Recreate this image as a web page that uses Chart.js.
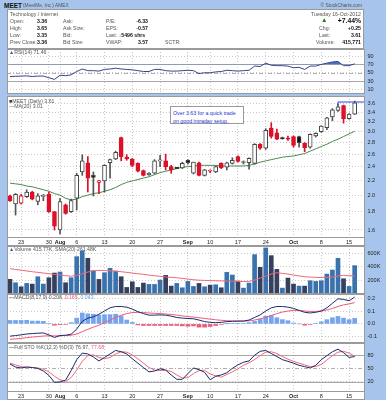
<!DOCTYPE html>
<html><head><meta charset="utf-8">
<script src="https://cdn.jsdelivr.net/npm/chart.js@4/dist/chart.umd.min.js"></script>
<style>
html,body{margin:0;padding:0}
body{width:386px;height:400px;background:#a6c4ec;position:relative;overflow:hidden;font-family:"Liberation Sans",Arial,sans-serif}
canvas{position:absolute;left:0}
.t{position:absolute;font-size:5.2px;line-height:6px;color:#555;white-space:nowrap;z-index:5}
.v{font-weight:bold;color:#111}
#hdr{position:absolute;left:7px;top:9px;width:357px;height:40px;background:#fff;border:1px solid #9a9a9a;box-sizing:border-box}
#note{position:absolute;left:170px;top:106px;width:74px;height:18px;border:1px solid #9a9a9a;background:#fff;box-sizing:border-box;z-index:6;font-size:5.3px;color:#1f33d8;padding:2px 0 0 2px;line-height:8px;white-space:nowrap}
</style></head><body>
<div id="hdr"></div>
<div class="t v" style="left:4px;top:2px;font-size:6.5px;line-height:7px">MEET</div>
<div class="t" style="left:23px;top:2.5px;font-size:4.8px">(MeetMe, Inc.) AMEX</div>
<div class="t" style="right:24px;top:2.5px;font-size:4.8px">© StockCharts.com</div>

<div class="t" style="left:10px;top:11px">Technology / Internet</div>
<div class="t" style="right:25px;top:11px">Tuesday 16-Oct-2012</div>

<div class="t" style="left:10px;top:17.5px">Open:</div><div class="t v" style="left:37px;top:17.5px">3.36</div>
<div class="t" style="left:63px;top:17.5px">Ask:</div>
<div class="t" style="left:106px;top:17.5px">P/E:</div><div class="t v" style="right:238px;top:17.5px">-6.33</div>
<div class="t" style="left:321px;top:16.5px;font-size:6.5px;color:#1f7a1f">▲</div>
<div class="t v" style="right:25px;top:16.5px;font-size:6.8px;line-height:7px">+7.44%</div>

<div class="t" style="left:10px;top:24.5px">High:</div><div class="t v" style="left:37px;top:24.5px">3.65</div>
<div class="t" style="left:63px;top:24.5px">Ask Size:</div>
<div class="t" style="left:106px;top:24.5px">EPS:</div><div class="t v" style="right:238px;top:24.5px">-0.57</div>
<div class="t" style="left:319px;top:24.5px">Chg:</div><div class="t v" style="right:25px;top:24.5px">+0.25</div>

<div class="t" style="left:10px;top:31.5px">Low:</div><div class="t v" style="left:37px;top:31.5px">3.35</div>
<div class="t" style="left:63px;top:31.5px">Bid:</div>
<div class="t" style="left:106px;top:31.5px">Last: <span style="color:#d01020;font-weight:bold">↓</span><span class="v">5496 shrs</span></div>
<div class="t" style="left:319px;top:31.5px">Last:</div><div class="t v" style="right:25px;top:31.5px">3.61</div>

<div class="t" style="left:10px;top:39px">Prev Close:</div><div class="t v" style="left:37px;top:39px">3.36</div>
<div class="t" style="left:63px;top:39px">Bid Size:</div>
<div class="t" style="left:106px;top:39px">VWAP:</div><div class="t v" style="right:238px;top:39px">3.57</div>
<div class="t" style="left:165px;top:39px">SCTR:</div>
<div class="t" style="left:316px;top:39px">Volume:</div><div class="t v" style="right:25px;top:39px">415,771</div>

<canvas id="cRsi" width="386" height="45" style="top:49px;width:386px;height:45px"></canvas>
<canvas id="cPx" width="386" height="150" style="top:96px;width:386px;height:150px"></canvas>
<canvas id="cVol" width="386" height="48" style="top:246px;width:386px;height:48px"></canvas>
<canvas id="cMacd" width="386" height="49" style="top:294px;width:386px;height:49px"></canvas>
<canvas id="cSto" width="386" height="57" style="top:343px;width:386px;height:57px"></canvas>

<div class="t" style="left:9px;top:49px"><span style="color:#3b5fb5">▲</span>RSI(14) 71.46</div>
<div class="t" style="left:9px;top:98px"><span style="color:#333">■</span>MEET (Daily) 3.61</div>
<div class="t" style="left:9px;top:103px"><span style="color:#4d8a4d">—</span>MA(20) 3.01</div>
<div class="t" style="left:9px;top:245.5px"><span style="color:#3b5fb5">▲</span>Volume 415.77K, SMA(20) 261.48K</div>
<div class="t" style="left:9px;top:294px"><span style="color:#1c2c6c">—</span>MACD(8,17,9) 0.208, <span style="color:#f05a78">0.165</span>, <span style="color:#6f9fe8">0.043</span></div>
<div class="t" style="left:9px;top:343.5px"><span style="color:#1c2c6c">—</span>Full STO %K(12,3) %D(3) 76.97, <span style="color:#f05a78">77.68</span></div>
<div id="note">Over 3.63 for a quick trade<br>on good intraday setup.</div>

<script>
// ---------- data ----------
const tickIdx = [2, 7, 9, 12, 17, 22, 27, 32, 36, 41, 46, 51, 56, 61];
const tickLabels = ['23', '30', 'Aug', '6', '13', '20', '27', 'Sep', '10', '17', '24', 'Oct', '8', '15'];
const monthLabels = ['Aug', 'Sep', 'Oct'];
const priceTicks = [1.6, 1.8, 2.0, 2.2, 2.4, 2.6, 2.8, 3.0, 3.2, 3.4, 3.6];
const rsiTicks = [10, 30, 50, 70, 90];
const volTicks = [200000, 400000, 600000];
const macdTicks = [-0.1, 0.0, 0.1, 0.2];
const stoTicks = [20, 50, 80];

const open = [1.99,1.89,1.90,1.98,2.04,1.92,1.985,2.01,1.80,1.60,1.88,1.80,1.96,2.32,2.46,2.27,2.17,2.19,2.46,2.52,2.89,2.55,2.52,2.45,2.34,2.28,2.30,2.49,2.49,2.40,2.39,2.38,2.50,2.30,2.46,2.27,2.33,2.32,2.45,2.39,2.45,2.56,2.465,2.46,2.45,2.77,2.70,3.07,2.98,2.89,2.88,2.91,2.91,2.79,2.72,2.92,3.00,3.08,3.30,3.44,3.55,3.26,3.36];
const high = [2.00,2.02,2.01,2.07,2.05,2.02,2.01,2.04,1.80,1.96,1.89,1.95,2.30,2.59,2.56,2.32,2.20,2.43,2.52,2.65,2.90,2.59,2.53,2.46,2.35,2.31,2.51,2.58,2.60,2.42,2.39,2.47,2.51,2.47,2.47,2.36,2.35,2.41,2.46,2.47,2.54,2.57,2.49,2.54,2.78,2.78,3.06,3.18,3.05,2.90,2.92,2.92,2.92,2.80,2.96,2.98,3.12,3.29,3.48,3.58,3.56,3.37,3.65];
const low = [1.92,1.76,1.89,1.97,1.94,1.88,1.93,1.79,1.60,1.56,1.77,1.79,1.82,2.27,2.04,1.99,2.02,2.04,2.23,2.51,2.49,2.50,2.40,2.32,2.26,2.27,2.29,2.40,2.35,2.30,2.37,2.37,2.44,2.29,2.26,2.26,2.31,2.31,2.37,2.35,2.44,2.47,2.44,2.36,2.44,2.68,2.68,2.88,2.85,2.86,2.84,2.72,2.72,2.64,2.70,2.90,2.99,3.04,3.22,3.42,3.17,3.25,3.35];
const close = [1.93,2.01,1.99,2.04,1.95,1.99,1.99,1.80,1.64,1.92,1.78,1.93,2.27,2.49,2.23,2.24,2.19,2.42,2.51,2.63,2.56,2.52,2.42,2.33,2.27,2.30,2.49,2.50,2.40,2.35,2.37,2.45,2.46,2.47,2.27,2.35,2.34,2.40,2.38,2.46,2.50,2.48,2.48,2.53,2.77,2.70,3.03,2.91,2.86,2.87,2.86,2.75,2.80,2.71,2.95,2.97,3.11,3.28,3.45,3.52,3.26,3.36,3.61];
const ma20 = [2.16,2.15,2.14,2.12,2.11,2.09,2.07,2.05,2.02,2.00,1.96,1.94,1.95,1.98,2.00,2.02,2.03,2.05,2.07,2.10,2.14,2.17,2.19,2.21,2.23,2.25,2.28,2.31,2.33,2.35,2.37,2.39,2.40,2.41,2.42,2.42,2.42,2.42,2.41,2.41,2.41,2.41,2.41,2.42,2.44,2.47,2.49,2.51,2.53,2.55,2.56,2.57,2.59,2.61,2.65,2.69,2.73,2.77,2.82,2.86,2.91,2.96,3.01];
const alertLevel = 3.63;
const alertStart = [59, 3.55];

const volumeK = [211,160,100,150,140,250,140,235,305,320,160,235,550,636,526,340,210,310,376,335,250,90,175,90,155,135,135,200,270,110,150,85,180,105,150,100,125,130,85,315,275,185,80,155,580,390,680,565,360,80,230,140,110,110,190,180,190,290,350,525,220,105,415.771];
const volSmaK = [370,358,348,336,325,315,305,295,285,275,265,258,270,295,320,340,345,342,338,332,325,315,305,295,285,275,265,255,245,240,235,225,215,205,198,195,192,190,188,185,183,180,178,180,200,230,260,290,310,300,290,275,262,250,245,240,238,238,245,262,270,265,261.48];

const rsi = [41,41.5,42,42.5,41,42,42,38,34,44,43,45,53,59,55,55,54,58,59,61,59,58,57,55,53,53,58,58,55,54,54,55,56,55,48,50,50,52,53,56,55,54,55,56,66,65,73,68,67,67,66,62,63,58,66,66,70,73,76,77,67,67,71.46];

const macd = [-0.095,-0.09,-0.085,-0.078,-0.075,-0.072,-0.07,-0.085,-0.105,-0.09,-0.088,-0.08,-0.04,0.02,0.045,0.055,0.075,0.1,0.125,0.135,0.135,0.13,0.115,0.095,0.08,0.068,0.068,0.07,0.068,0.06,0.05,0.045,0.042,0.04,0.03,0.018,0.012,0.01,0.012,0.018,0.02,0.022,0.022,0.03,0.05,0.07,0.1,0.125,0.135,0.135,0.13,0.12,0.105,0.09,0.085,0.09,0.1,0.125,0.16,0.195,0.19,0.18,0.208];
const signal = [-0.12,-0.116,-0.112,-0.107,-0.102,-0.098,-0.094,-0.092,-0.093,-0.092,-0.09,-0.088,-0.078,-0.06,-0.042,-0.025,-0.01,0.01,0.03,0.05,0.068,0.08,0.088,0.09,0.088,0.085,0.082,0.08,0.077,0.073,0.068,0.062,0.057,0.053,0.048,0.043,0.037,0.032,0.028,0.025,0.023,0.022,0.022,0.024,0.03,0.04,0.05,0.065,0.08,0.092,0.1,0.105,0.105,0.1,0.097,0.097,0.1,0.108,0.12,0.135,0.148,0.155,0.165];
const hist = [0.027,0.027,0.027,0.028,0.022,0.022,0.02,0.004,-0.01,-0.006,-0.004,0.01,0.045,0.085,0.078,0.075,0.068,0.072,0.072,0.075,0.062,0.03,0.012,-0.008,-0.012,-0.012,-0.012,-0.012,-0.012,-0.012,-0.012,-0.015,-0.018,-0.015,-0.025,-0.025,-0.02,-0.012,-0.003,0.001,0.003,0.003,0.004,0.01,0.02,0.035,0.06,0.065,0.048,0.033,0.025,0.007,0,-0.01,-0.003,0.005,0.016,0.033,0.048,0.058,0.045,0.033,0.043];

const stoK = [60,53,51,53,52,50,44,34,18,19,23,45,70,85,83,76,67,75,83,91,88,83,72,62,52,42,44,49,46,35,25,25,38,51,47,41,24,32,35,40,50,58,64,67,80,89,91,84,77,70,66,62,57,54,51,57,70,79,88,94,86,75,76.97];
const stoD = [62,58,54,53,52,51,48,42,32,24,20,29,46,66,79,81,75,72,75,83,88,87,81,72,62,52,46,45,46,43,35,28,29,38,45,46,37,33,30,36,42,49,57,63,70,79,87,88,84,77,71,66,62,58,54,54,59,69,79,87,89,85,77.68];

// ---------- helpers ----------
const FONT = "'Liberation Sans', Arial, sans-serif";
Chart.defaults.font.family = FONT;
Chart.defaults.font.size = 5.5;
Chart.defaults.color = '#222';
Chart.defaults.animation = false;
Chart.defaults.events = [];
Chart.defaults.plugins.legend.display = false;
Chart.defaults.plugins.tooltip.enabled = false;

const pts = arr => arr.map((v, i) => ({x: i, y: v}));

const panel = {
  id: 'panel',
  beforeDraw(chart, args, opts) {
    const a = chart.chartArea, ctx = chart.ctx;
    ctx.save();
    ctx.fillStyle = '#fff';
    const bottom = opts.full ? chart.height : a.bottom;
    ctx.fillRect(a.left, a.top, a.right - a.left, bottom - a.top);
    ctx.restore();
  },
  beforeDatasetsDraw(chart, args, opts) {
    const ys = chart.scales.y, a = chart.chartArea, ctx = chart.ctx;
    (opts.lines || []).forEach(l => {
      const py = Math.round(ys.getPixelForValue(l.v)) + 0.5;
      ctx.save();
      ctx.strokeStyle = l.c; ctx.lineWidth = 1; ctx.setLineDash(l.d || []);
      ctx.beginPath(); ctx.moveTo(a.left, py); ctx.lineTo(a.right, py); ctx.stroke();
      ctx.restore();
    });
  },
  afterDraw(chart, args, opts) {
    const a = chart.chartArea, ctx = chart.ctx;
    ctx.save();
    ctx.strokeStyle = '#9a9a9a'; ctx.lineWidth = 1;
    ctx.strokeRect(a.left + 0.5, a.top + 0.5, a.right - a.left - 1, a.bottom - a.top - 1);
    if (opts.full) ctx.strokeRect(a.left + 0.5, a.top + 0.5, a.right - a.left - 1, chart.height - a.top - 1);
    ctx.restore();
  }
};

function xScale(showLabels) {
  return {
    type: 'linear', min: -0.54, max: 63.86, offset: false,
    afterBuildTicks: s => { s.ticks = tickIdx.map(v => ({value: v})); },
    ticks: {
      display: showLabels, autoSkip: false, maxRotation: 0, padding: 1.5,
      callback: (v, i) => tickLabels[i],
      color: '#222',
      font: c => ({family: FONT, size: 5.5, weight: monthLabels.includes(tickLabels[c.index]) ? 'bold' : 'normal'})
    },
    grid: {color: '#c9c9c9', drawTicks: false, offset: false, lineWidth: 1},
    border: {display: false, dash: [1, 2]},
    afterFit: s => { s.height = showLabels ? 8 : 0; s.paddingLeft = 0; s.paddingRight = 0; }
  };
}
function yScale(type, min, max, ticks, fmt) {
  return {
    type, position: 'right', min, max,
    afterBuildTicks: s => { s.ticks = ticks.map(v => ({value: v})); },
    ticks: {callback: fmt, padding: 2.5, color: '#222', font: {size: 5.5}, autoSkip: false},
    grid: {color: '#c9c9c9', drawTicks: false, lineWidth: 1},
    border: {display: false, dash: [1, 2]},
    afterFit: s => { s.width = 21; s.paddingTop = 0; s.paddingBottom = 0; }
  };
}
const baseOpts = (x, y, panelOpts) => ({
  responsive: false, devicePixelRatio: 1, animation: false,
  layout: {padding: {left: 7, right: 0, top: 0, bottom: 0}},
  scales: {x, y},
  plugins: {legend: {display: false}, tooltip: {enabled: false}, panel: panelOpts}
});

// ---------- RSI ----------
new Chart(document.getElementById('cRsi'), {
  type: 'line',
  data: {datasets: [{
    data: pts(rsi), borderColor: '#33468a', borderWidth: 1, pointRadius: 0, tension: 0,
    fill: {target: {value: 70}, above: '#4c6fc4', below: 'rgba(0,0,0,0)'}
  }]},
  options: baseOpts(xScale(false), yScale('linear', -1, 107, rsiTicks, v => String(v)),
    {lines: [{v: 70, c: '#a8a8a8'}, {v: 30, c: '#a8a8a8'}, {v: 50, c: '#b0b0b0', d: [4, 2, 1, 2]}]}),
  plugins: [panel]
});

// ---------- Price ----------
const isRed = close.map((c, i) => i === 0 ? c < open[i] : c < close[i - 1]);
const isFilled = close.map((c, i) => c < open[i]);
const RED = '#dc1028', BLK = '#111';
new Chart(document.getElementById('cPx'), {
  type: 'bar',
  data: {datasets: [
    {type: 'line', data: pts(ma20), borderColor: '#4d8a4d', borderWidth: 1, pointRadius: 0, tension: 0, order: 3},
    {type: 'line', data: [{x: alertStart[0], y: alertStart[1]}, {x: alertStart[0], y: alertLevel}, {x: 63.86, y: alertLevel}],
      borderColor: '#2f45e6', borderWidth: 1, pointRadius: 0, tension: 0, order: 0},
    {data: low.map((l, i) => ({x: i, y: [l, high[i]]})), grouped: false, barThickness: 1,
      backgroundColor: isRed.map(r => r ? RED : '#555'), order: 2},
    {data: open.map((o, i) => ({x: i, y: [Math.min(o, close[i]), Math.max(o, close[i])]})), grouped: false,
      barThickness: 4, minBarLength: 1, borderWidth: 1, borderSkipped: false,
      backgroundColor: open.map((o, i) => isFilled[i] ? (isRed[i] ? RED : BLK) : '#fff'),
      borderColor: isRed.map(r => r ? RED : '#444'), order: 1}
  ]},
  options: baseOpts(xScale(true), yScale('logarithmic', 1.52, 3.772, priceTicks, v => v.toFixed(1)), {full: true}),
  plugins: [panel]
});

// ---------- Volume ----------
new Chart(document.getElementById('cVol'), {
  type: 'bar',
  data: {datasets: [
    {type: 'line', data: pts(volSmaK.map(v => v * 1000)), borderColor: '#f0687a', borderWidth: 1, pointRadius: 0, tension: 0, order: 0},
    {data: pts(volumeK.map(v => v * 1000)), grouped: false, barThickness: 4,
      backgroundColor: isRed.map(r => r ? '#35405f' : '#3a72ae'), order: 1}
  ]},
  options: baseOpts(xScale(false), yScale('linear', -8000, 709000, volTicks, v => (v / 1000) + 'K'), {}),
  plugins: [panel]
});

// ---------- MACD ----------
new Chart(document.getElementById('cMacd'), {
  type: 'bar',
  data: {datasets: [
    {type: 'line', data: pts(macd), borderColor: '#1c2c6c', borderWidth: 1, pointRadius: 0, tension: 0, order: 0},
    {type: 'line', data: pts(signal), borderColor: '#f05a78', borderWidth: 1, pointRadius: 0, tension: 0, order: 1},
    {data: pts(hist), grouped: false, barThickness: 4,
      backgroundColor: hist.map(h => h >= 0 ? '#76a5ee' : '#e85c7a'), order: 2}
  ]},
  options: baseOpts(xScale(false), yScale('linear', -0.148, 0.232, macdTicks, v => v.toFixed(1)), {}),
  plugins: [panel]
});

// ---------- Full STO ----------
new Chart(document.getElementById('cSto'), {
  type: 'line',
  data: {datasets: [
    {data: pts(stoK), borderColor: '#1c2a66', borderWidth: 1, pointRadius: 0, tension: 0, order: 0,
      fill: {target: {value: 20}, above: 'rgba(0,0,0,0)', below: '#b8bccc'}},
    {data: pts(stoD), borderColor: '#f0687e', borderWidth: 1, pointRadius: 0, tension: 0, order: 1}
  ]},
  options: baseOpts(xScale(true), yScale('linear', -4, 108, stoTicks, v => String(v)),
    {full: true, lines: [{v: 80, c: '#a8a8a8'}, {v: 20, c: '#a8a8a8'}, {v: 50, c: '#b0b0b0', d: [4, 2, 1, 2]}]}),
  plugins: [panel]
});
</script>
</body></html>
